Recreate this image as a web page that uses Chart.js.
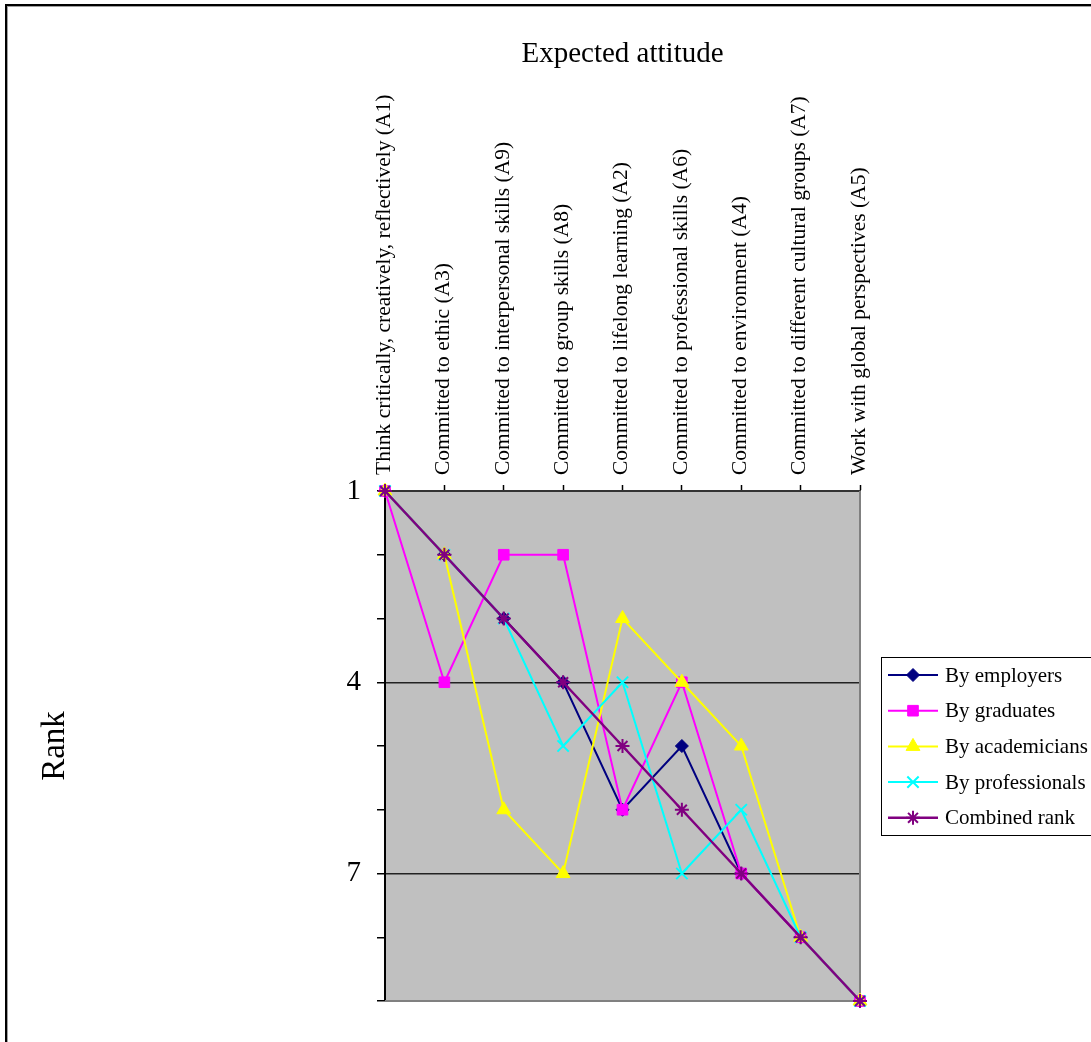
<!DOCTYPE html>
<html><head><meta charset="utf-8">
<script src="https://cdn.jsdelivr.net/npm/chart.js@4/dist/chart.umd.min.js"></script>
<style>html,body{margin:0;padding:0;background:#fff;overflow:hidden}#wrap{position:absolute;left:0;top:0;width:1091px;height:1042px}</style>
</head><body><div id="wrap"><canvas id="c" width="1091" height="1042"></canvas></div>
<script>
const categories = [
  'Think critically, creatively, reflectively (A1)',
  'Committed to ethic (A3)',
  'Committed to interpersonal skills (A9)',
  'Committed to group skills (A8)',
  'Committed to lifelong learning (A2)',
  'Committed to professional skills (A6)',
  'Committed to environment (A4)',
  'Committed to different cultural groups (A7)',
  'Work with global perspectives (A5)'
];
const rankTickLabels = [1, 4, 7];
const seriesNames = ['By employers', 'By graduates', 'By academicians', 'By professionals', 'Combined rank'];
const byEmployers     = [1, 2, 3, 4, 6, 5, 7, 8, 9];
const byGraduates     = [1, 4, 2, 2, 6, 4, 7, 8, 9];
const byAcademicians  = [1, 2, 6, 7, 3, 4, 5, 8, 9];
const byProfessionals = [1, 2, 3, 5, 4, 7, 6, 8, 9];
const combinedRank    = [1, 2, 3, 4, 5, 6, 7, 8, 9];

const SERIF = '"Liberation Serif", "Times New Roman", serif';

const styles = [
  {color:'#000080', pointStyle:'rectRot', radius:6.5, lw:2, pbw:1},
  {color:'#FF00FF', pointStyle:'rect', radius:7.5, lw:2, pbw:1},
  {color:'#FFFF00', pointStyle:'triangle', radius:8, lw:2, pbw:1},
  {color:'#00FFFF', pointStyle:'crossRot', radius:8, lw:2, pbw:2},
  {color:'#800080', pointStyle:'star', radius:7, lw:2.5, pbw:2}
];
const seriesData = [byEmployers, byGraduates, byAcademicians, byProfessionals, combinedRank];

const datasets = seriesData.map((d, i) => ({
  label: seriesNames[i],
  data: d,
  borderColor: styles[i].color,
  backgroundColor: styles[i].color,
  pointBackgroundColor: styles[i].color,
  pointBorderColor: styles[i].color,
  pointBorderWidth: styles[i].pbw,
  pointStyle: styles[i].pointStyle,
  pointRadius: styles[i].radius,
  pointHoverRadius: styles[i].radius,
  borderWidth: styles[i].lw,
  tension: 0,
  fill: false,
  clip: false,
  order: seriesData.length - i
}));

const framePlugin = {
  id: 'frame',
  beforeDraw(chart) {
    const ctx = chart.ctx, a = chart.chartArea;
    ctx.save();
    ctx.fillStyle = '#fff';
    ctx.fillRect(0, 0, chart.width, chart.height);
    ctx.fillStyle = '#000';
    ctx.fillRect(5, 4, 2, chart.height);
    ctx.fillRect(5, 4, chart.width, 2);
    ctx.fillStyle = '#a0a0a0';
    ctx.fillRect(7, 6, 1, chart.height);
    ctx.fillRect(7, 6, chart.width, 1);
    ctx.fillStyle = '#C0C0C0';
    ctx.fillRect(a.left, a.top, a.right - a.left, a.bottom - a.top);
    ctx.restore();
  },
  beforeDatasetsDraw(chart) {
    const ctx = chart.ctx, a = chart.chartArea;
    ctx.save();
    ctx.strokeStyle = '#808080';
    ctx.lineWidth = 2;
    ctx.beginPath();
    ctx.moveTo(a.right, a.top); ctx.lineTo(a.right, a.bottom + 1);
    ctx.moveTo(a.left, a.bottom); ctx.lineTo(a.right + 1, a.bottom);
    ctx.stroke();
    ctx.restore();
  }
};

const legendPlugin = {
  id: 'excelLegend',
  afterDraw(chart) {
    const ctx = chart.ctx;
    ctx.save();
    const left = 881, top = 657, w = 230, h = 178;
    ctx.fillStyle = '#fff';
    ctx.fillRect(left, top, w, h);
    ctx.strokeStyle = '#000';
    ctx.lineWidth = 1;
    ctx.strokeRect(left + 0.5, top + 0.5, w, h);
    chart.data.datasets.forEach((ds, i) => {
      const y = 675 + i * 35.7;
      ctx.strokeStyle = ds.borderColor;
      ctx.lineWidth = ds.borderWidth;
      ctx.beginPath(); ctx.moveTo(888, y); ctx.lineTo(938, y); ctx.stroke();
      ctx.fillStyle = ds.pointBackgroundColor;
      ctx.strokeStyle = ds.pointBorderColor;
      ctx.lineWidth = ds.pointBorderWidth;
      Chart.helpers.drawPoint(ctx, {pointStyle: ds.pointStyle, radius: ds.pointRadius, borderWidth: ds.pointBorderWidth, rotation: 0}, 913, y);
      ctx.fillStyle = '#000';
      ctx.font = '21px ' + SERIF;
      ctx.textBaseline = 'middle';
      ctx.textAlign = 'left';
      ctx.fillText(ds.label, 945, y + 1);
    });
    ctx.restore();
  }
};

new Chart(document.getElementById('c'), {
  type: 'line',
  data: { labels: categories, datasets },
  plugins: [framePlugin, legendPlugin],
  options: {
    responsive: false,
    devicePixelRatio: 1,
    animation: false,
    events: [],
    layout: { padding: { left: 0, top: 0, right: 231, bottom: 41 } },
    plugins: { legend: { display: false }, tooltip: { enabled: false }, title: { display: false } },
    scales: {
      x: {
        type: 'category',
        position: 'top',
        offset: false,
        afterFit(scale) { scale.height = 491; },
        ticks: { autoSkip: false, maxRotation: 90, minRotation: 90, padding: 10, labelOffset: 25, color: '#000', font: { family: SERIF, size: 21.5 } },
        grid: { drawOnChartArea: false, drawTicks: true, tickLength: 6, tickColor: '#000', tickWidth: 1.5 },
        border: { display: true, color: '#333', width: 2 },
        title: { display: true, text: 'Expected attitude', color: '#000', font: { family: SERIF, size: 29 }, padding: { top: 37, bottom: 0 } }
      },
      y: {
        type: 'linear',
        reverse: true,
        min: 1,
        max: 9,
        afterFit(scale) { scale.width = 385; },
        ticks: { stepSize: 1, autoSkip: false, padding: 16, color: '#000', font: { family: SERIF, size: 29 },
          callback: v => rankTickLabels.includes(v) ? String(v) : '' },
        grid: {
          color: c => (c.tick && (c.tick.value === 4 || c.tick.value === 7)) ? '#222' : 'rgba(0,0,0,0)',
          lineWidth: 1.5, drawTicks: true, tickLength: 8, tickColor: '#000', tickWidth: 1.5
        },
        border: { display: true, color: '#000', width: 2 },
        title: { display: true, text: 'Rank', color: '#000', font: { family: SERIF, size: 33 }, padding: { top: 36, bottom: 0 } }
      }
    }
  }
});
</script>
</body></html>
